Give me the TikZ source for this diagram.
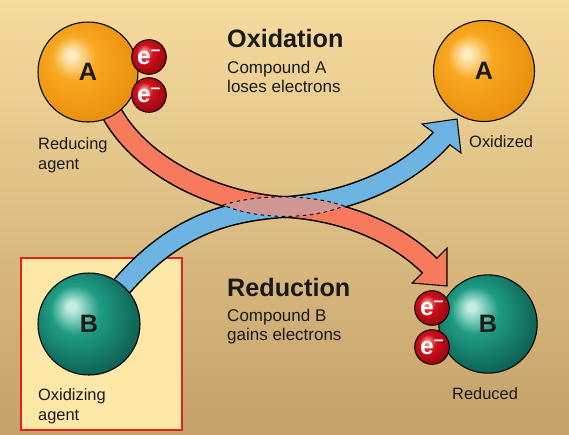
\documentclass[tikz,border=0pt]{standalone}
\usepackage{fontspec}
\setmainfont{Liberation Sans}
\definecolor{ahi}{HTML}{FFEBC0}
\definecolor{amid}{HTML}{F9A820}
\definecolor{adark}{HTML}{E98E0E}
\definecolor{bhi}{HTML}{C4EEE2}
\definecolor{bmid}{HTML}{1F9C84}
\definecolor{bdark}{HTML}{0D5F51}
\definecolor{ehi}{HTML}{F58A8A}
\definecolor{emid}{HTML}{D0101C}
\definecolor{edark}{HTML}{95050F}
\definecolor{redband}{HTML}{F77A5C}
\definecolor{blueband}{HTML}{6DB4E2}
\definecolor{lens}{HTML}{D19795}
\definecolor{boxfill}{HTML}{FDE8A8}
\definecolor{boxline}{HTML}{E2231A}
\definecolor{bgtop}{HTML}{F6DB9E}
\definecolor{bgbot}{HTML}{C4A16A}
\definecolor{ink}{HTML}{1A1A1A}
\pgfdeclareradialshading{ballA}{\pgfpoint{-9bp}{9bp}}{color(0bp)=(ahi); color(2bp)=(ahi); color(11bp)=(amid); color(30bp)=(adark); color(50bp)=(adark)}
\pgfdeclareradialshading{ballB}{\pgfpoint{-9bp}{9bp}}{color(0bp)=(bhi); color(2bp)=(bhi); color(12bp)=(bmid); color(30bp)=(bdark); color(50bp)=(bdark)}
\pgfdeclareradialshading{ballE}{\pgfpoint{-8bp}{8bp}}{color(0bp)=(ehi); color(3bp)=(ehi); color(12bp)=(emid); color(30bp)=(edark); color(50bp)=(edark)}
\pgfdeclarelayer{back}
\pgfdeclarelayer{bands}
\pgfsetlayers{back,bands,main}
\begin{document}
\begin{tikzpicture}[x=0.03cm, y=-0.03cm,
    ball/.style={circle, draw=black, line width=0.9pt, inner sep=0pt, text=ink, font=\fontsize{21.5}{24}\selectfont\bfseries},
    elec/.style={circle, draw=black, line width=0.8pt, inner sep=0pt, minimum size=1.04cm, shading=ballE, text=white, font=\fontsize{21}{22}\selectfont\bfseries},
    heading/.style={anchor=base west, inner sep=0pt, text=ink, font=\fontsize{21.5}{24}\selectfont\bfseries},
    sub/.style={anchor=base west, inner sep=0pt, text=ink, font=\fontsize{14.5}{17}\selectfont},
    lbl/.style={anchor=base west, inner sep=0pt, text=ink, font=\fontsize{14}{17}\selectfont},
    bandedge/.style={line width=0.66cm, draw=black},
    band/.style={line width=0.57cm},
    head/.style={draw=black, line width=0.9pt, line join=miter}]
    \useasboundingbox (0,0) rectangle (569,434);
    \begin{pgfonlayer}{back}
        \shade[top color=bgtop, bottom color=bgbot] (0,0) rectangle (569,434);
        \filldraw[fill=boxfill, draw=boxline, line width=1.3pt] (21,258) rectangle (182,430);
    \end{pgfonlayer}

    \node[ball, shading=ballA, minimum size=3cm] (A1) at (88,72) {A};
    \node[ball, shading=ballA, minimum size=3.03cm] (A2) at (484,71) {A};
    \node[ball, shading=ballB, minimum size=3.06cm] (B1) at (89,324) {B};
    \node[ball, shading=ballB, minimum size=2.95cm] (B2) at (488,324) {B};
    \node[elec] (eA1) at (149,57) {e\textsuperscript{–}};
    \node[elec] (eA2) at (149,95) {e\textsuperscript{–}};
    \node[elec] (eB1) at (432,308) {e\textsuperscript{–}};
    \node[elec] (eB2) at (432,347) {e\textsuperscript{–}};

    \begin{pgfonlayer}{bands}
        \coordinate (redend) at (432,268);
        \coordinate (bluend) at (443,137);
        \draw[bandedge] (A1.center) -- (A1.-60) .. controls (143,167) and (215,203) .. (285,207) .. controls (340,210) and (395,230) .. (redend);
        \draw[bandedge] (B1.center) -- (B1.49) .. controls (175,226) and (225,211) .. (285,207) .. controls (345,203) and (405,180) .. (bluend);
        \filldraw[head, fill=redband] (447,286) -- (447,248) -- (412,283) -- cycle;
        \filldraw[head, fill=blueband] (457,119) -- (422,124) -- (461,153) -- cycle;
        \draw[band, redband] (A1.center) -- (A1.-60) .. controls (143,167) and (215,203) .. (285,207) .. controls (340,210) and (395,230) .. (redend);
        \draw[band, blueband] (B1.center) -- (B1.49) .. controls (175,226) and (225,211) .. (285,207) .. controls (345,203) and (405,180) .. (bluend);
        \filldraw[fill=lens, draw=black, dashed, line width=0.8pt] (223,205) .. controls (258,194) and (310,194) .. (344,206) .. controls (310,220) and (258,220) .. (223,205) -- cycle;
    \end{pgfonlayer}

    \node[heading] (oxt) at (227,47) {Oxidation};
    \node[sub] (ox1) at (227,73) {Compound A};
    \node[sub] (ox2) at (227,92) {loses electrons};
    \node[heading] (redt) at (227,296) {Reduction};
    \node[sub] (red1) at (227,321) {Compound B};
    \node[sub] (red2) at (227,340) {gains electrons};
    \node[lbl] (ra1) at (38,149) {Reducing};
    \node[lbl] (ra2) at (38,169) {agent};
    \node[lbl] (oa1) at (38,400) {Oxidizing};
    \node[lbl] (oa2) at (38,420) {agent};
    \node[lbl] (oxd) at (469,147) {Oxidized};
    \node[lbl] (rdd) at (452,399) {Reduced};
\end{tikzpicture}
\end{document}
